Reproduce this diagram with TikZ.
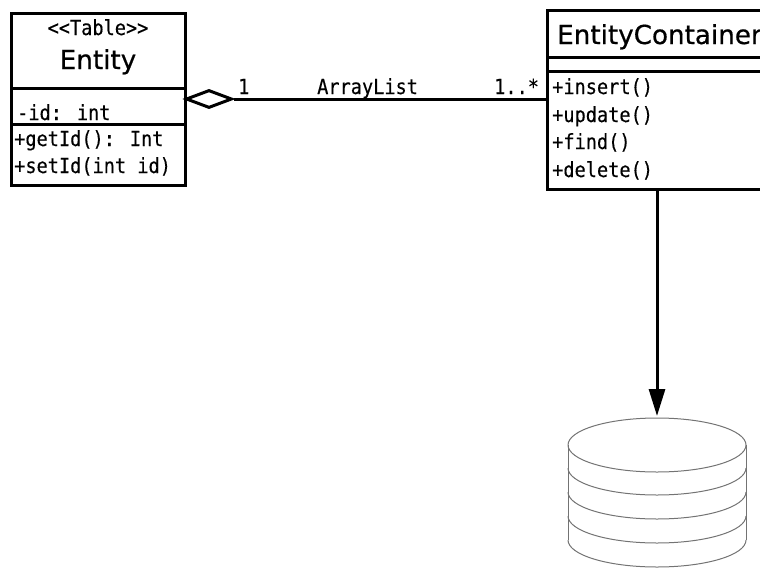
\documentclass[tikz,border=0pt]{standalone}
\usepackage{fontspec}
\setmainfont[FakeBold=0.6]{DejaVu Sans}
\newfontfamily\umlmono[FakeBold=0.25]{DejaVu Sans Mono}
\usetikzlibrary{arrows.meta}
\usetikzlibrary{shapes.geometric}
\tikzset{
        umlbox/.style={rectangle, draw, line width=3pt, fill=white, inner sep=0pt},
        member/.style={anchor=base west, inner sep=0pt, yscale=1.12, transform shape, font=\umlmono\fontsize{18.6}{20}\selectfont},
        title/.style={anchor=base, inner sep=0pt, font=\fontsize{26.2}{28}\selectfont},
        dbline/.style={draw=black!55, line width=1pt}
}

\begin{document}
\begin{tikzpicture}[x=1pt, y=1pt]
        \useasboundingbox (0,0) rectangle (760,-568);

        % Entity
        \node (entityhead) [umlbox, minimum width=174pt, minimum height=75pt] at (98,-50.5) {};
        \node (entityattr) [umlbox, minimum width=174pt, minimum height=36pt] at (98,-106) {};
        \node (entityops) [umlbox, minimum width=174pt, minimum height=61pt] at (98,-154.5) {};
        \node (stereotype) [member, anchor=base] at (98,-35) {<{}<Table>{}>};
        \node (entityname) [title] at (98,-69) {Entity};
        \node (idattr) [member] at (17,-120) {-id: int};
        \node (getid) [member] at (14,-146) {+getId(): Int};
        \node (setid) [member] at (14,-173) {+setId(int id)};

        % EntityContainer, runs off the right edge
        \node (containerhead) [umlbox, minimum width=220pt, minimum height=47pt] at (657,-33.5) {};
        \node (containerattr) [umlbox, minimum width=220pt, minimum height=14pt] at (657,-64) {};
        \node (containerops) [umlbox, minimum width=220pt, minimum height=118pt] at (657,-130) {};
        \node (containername) [title, anchor=base west] at (557,-44) {EntityContainer};
        \foreach \name/\op/\y in {insert/insert/94, update/update/122, find/find/149, delete/delete/177}
        {
          \node (\name) [member] at (552,-\y) {+\op()};
        }

        % aggregation
        \node (aggregation) [diamond, draw, line width=3pt, fill=white, inner sep=0pt,
          minimum width=46pt, minimum height=18pt] at (209,-99) {};
        \draw [line width=3pt] (aggregation.east) -- (aggregation.east -| containerops.west);
        \node (entitycard) [member] at (238,-94) {1};
        \node (assocname) [member] at (317,-94) {ArrayList};
        \node (containercard) [member] at (494,-94) {1..*};

        % database
        \foreach \y in {468, 492, 516, 540}
        {
          \draw [dbline] (568,-\y) arc [start angle=180, end angle=360, x radius=89pt, y radius=27pt];
        }
        \draw [dbline] (568,-445) -- (568,-540) (746,-445) -- (746,-540);
        \draw [dbline] (657,-445) ellipse [x radius=89pt, y radius=27pt];
        \coordinate (dbtop) at (657,-416);

        \draw [line width=3pt, -{Triangle[length=27pt, width=16pt]}] (containerops.south) -- (dbtop);
\end{tikzpicture}
\end{document}
